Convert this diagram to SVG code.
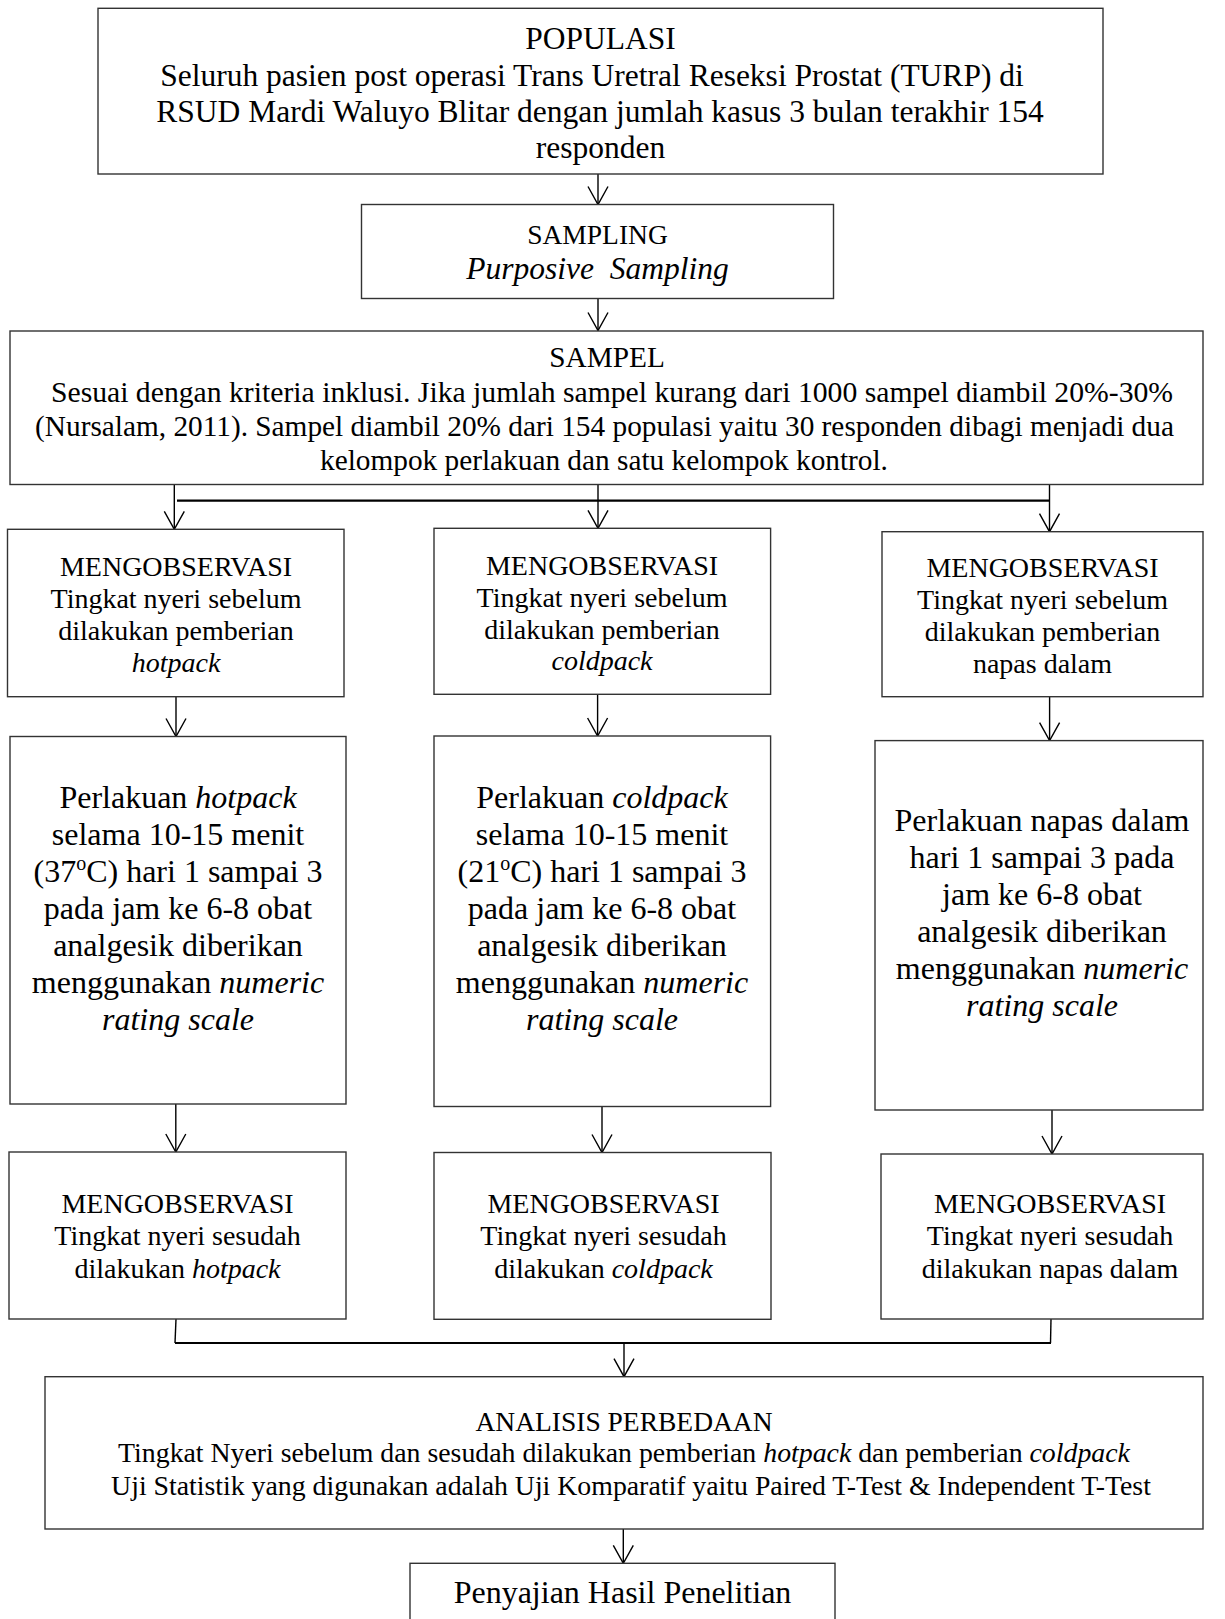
<svg xmlns="http://www.w3.org/2000/svg" width="1225" height="1619" viewBox="0 0 1225 1619">
<style>
.box{fill:#fff;stroke:#333;stroke-width:1.4}
.t{font-family:"Liberation Serif","Times New Roman",serif;text-anchor:middle;fill:#000}
.f315{font-size:31.5px}
.f293{font-size:29.3px}
.f28{font-size:28px}
.f27{font-size:27.5px}
.f278{font-size:27.8px}
.f32{font-size:32px}
.i{font-style:italic}
.conn{stroke:#000;stroke-width:1.4;fill:none}
.arr{marker-end:url(#ah)}
.bar{stroke:#000;stroke-width:2.2;fill:none}
</style>
<defs>
<marker id="ah" markerUnits="userSpaceOnUse" markerWidth="20" markerHeight="22" refX="18" refY="10" orient="auto" overflow="visible">
<path d="M0,0 L18,10 L0,20" fill="none" stroke="#000" stroke-width="1.4"/>
</marker>
</defs>
<rect width="1225" height="1619" fill="#fff"/>

<g id="connectors">
<line class="conn arr" x1="598" y1="174" x2="598" y2="204.5"/>
<line class="conn arr" x1="598" y1="298.5" x2="598" y2="330.5"/>
<line class="conn arr" x1="174.3" y1="484.5" x2="174.3" y2="529.3"/>
<line class="conn arr" x1="598" y1="484.5" x2="598" y2="528.3"/>
<line class="conn arr" x1="1049.5" y1="484.5" x2="1049.5" y2="531.7"/>
<line class="bar" x1="177" y1="500.7" x2="1049.5" y2="500.7"/>
<line class="conn arr" x1="176" y1="696.7" x2="176" y2="736.5"/>
<line class="conn arr" x1="597.6" y1="694.3" x2="597.6" y2="736"/>
<line class="conn arr" x1="1049.6" y1="696.7" x2="1049.6" y2="740.6"/>
<line class="conn arr" x1="175.8" y1="1104" x2="175.8" y2="1152"/>
<line class="conn arr" x1="602" y1="1106.5" x2="602" y2="1152.5"/>
<line class="conn arr" x1="1052" y1="1110" x2="1052" y2="1154"/>
<line class="conn" x1="176" y1="1319" x2="175" y2="1343"/>
<line class="conn" x1="1051" y1="1319" x2="1050.5" y2="1343"/>
<line class="bar" x1="175" y1="1343" x2="1051" y2="1343"/>
<line class="conn arr" x1="624" y1="1343" x2="624" y2="1376.7"/>
<line class="conn arr" x1="623.3" y1="1529" x2="623.3" y2="1563.3"/>
</g>

<g id="populasi">
<rect class="box" x="98" y="8.3" width="1005" height="165.7"/>
<text class="t f315" x="600.5" y="49">POPULASI</text>
<text class="t f315" x="592" y="86">Seluruh pasien post operasi Trans Uretral Reseksi Prostat (TURP) di</text>
<text class="t f315" x="600" y="122">RSUD Mardi Waluyo Blitar dengan jumlah kasus 3 bulan terakhir 154</text>
<text class="t f315" x="600.5" y="158">responden</text>
</g>

<g id="sampling">
<rect class="box" x="361.5" y="204.5" width="472" height="94"/>
<text class="t f27" x="597.5" y="243.5">SAMPLING</text>
<text class="t f315 i" x="597.5" y="278.5" xml:space="preserve">Purposive  Sampling</text>
</g>

<g id="sampel">
<rect class="box" x="10" y="331" width="1193" height="153.5"/>
<text class="t f293" x="607" y="367">SAMPEL</text>
<text class="t" style="font-size:29.7px" x="612" y="402">Sesuai dengan kriteria inklusi. Jika jumlah sampel kurang dari 1000 sampel diambil 20%-30%</text>
<text class="t f293" x="604.5" y="436">(Nursalam, 2011). Sampel diambil 20% dari 154 populasi yaitu 30 responden dibagi menjadi dua</text>
<text class="t f293" x="604" y="470">kelompok perlakuan dan satu kelompok kontrol.</text>
</g>

<g id="obs-pre-hotpack">
<rect class="box" x="7.5" y="529.3" width="336.5" height="167.4"/>
<text class="t f28" x="176" y="576">MENGOBSERVASI</text>
<text class="t f28" x="176" y="608">Tingkat nyeri sebelum</text>
<text class="t f28" x="176" y="640">dilakukan pemberian</text>
<text class="t f28 i" x="176" y="672">hotpack</text>
</g>

<g id="obs-pre-coldpack">
<rect class="box" x="434" y="528.3" width="336.6" height="166"/>
<text class="t f28" x="602" y="575">MENGOBSERVASI</text>
<text class="t f28" x="602" y="607">Tingkat nyeri sebelum</text>
<text class="t f28" x="602" y="639">dilakukan pemberian</text>
<text class="t f28 i" x="602" y="670">coldpack</text>
</g>

<g id="obs-pre-napas">
<rect class="box" x="882" y="531.7" width="321" height="165"/>
<text class="t f28" x="1042.5" y="577">MENGOBSERVASI</text>
<text class="t f28" x="1042.5" y="609">Tingkat nyeri sebelum</text>
<text class="t f28" x="1042.5" y="641">dilakukan pemberian</text>
<text class="t f28" x="1042.5" y="673">napas dalam</text>
</g>

<g id="perlakuan-hotpack">
<rect class="box" x="10" y="736.5" width="336" height="367.5"/>
<text class="t f32" x="178" y="808">Perlakuan <tspan class="i">hotpack</tspan></text>
<text class="t f32" x="178" y="845">selama 10-15 menit</text>
<text class="t f32" x="178" y="882">(37<tspan font-size="20" dy="-12">o</tspan><tspan dy="12">C) hari 1 sampai 3</tspan></text>
<text class="t f32" x="178" y="919">pada jam ke 6-8 obat</text>
<text class="t f32" x="178" y="956">analgesik diberikan</text>
<text class="t f32" x="178" y="993">menggunakan <tspan class="i">numeric</tspan></text>
<text class="t f32 i" x="178" y="1030">rating scale</text>
</g>

<g id="perlakuan-coldpack">
<rect class="box" x="434" y="736" width="336.6" height="370.5"/>
<text class="t f32" x="602" y="808">Perlakuan <tspan class="i">coldpack</tspan></text>
<text class="t f32" x="602" y="845">selama 10-15 menit</text>
<text class="t f32" x="602" y="882">(21<tspan font-size="20" dy="-12">o</tspan><tspan dy="12">C) hari 1 sampai 3</tspan></text>
<text class="t f32" x="602" y="919">pada jam ke 6-8 obat</text>
<text class="t f32" x="602" y="956">analgesik diberikan</text>
<text class="t f32" x="602" y="993">menggunakan <tspan class="i">numeric</tspan></text>
<text class="t f32 i" x="602" y="1030">rating scale</text>
</g>

<g id="perlakuan-napas">
<rect class="box" x="875" y="740.6" width="328" height="369.4"/>
<text class="t f32" x="1042" y="831">Perlakuan napas dalam</text>
<text class="t f32" x="1042" y="868">hari 1 sampai 3 pada</text>
<text class="t f32" x="1042" y="905">jam ke 6-8 obat</text>
<text class="t f32" x="1042" y="942">analgesik diberikan</text>
<text class="t f32" x="1042" y="979">menggunakan <tspan class="i">numeric</tspan></text>
<text class="t f32 i" x="1042" y="1016">rating scale</text>
</g>

<g id="obs-post-hotpack">
<rect class="box" x="9" y="1152" width="337" height="167"/>
<text class="t f28" x="177.5" y="1213">MENGOBSERVASI</text>
<text class="t f28" x="177.5" y="1245">Tingkat nyeri sesudah</text>
<text class="t f28" x="177.5" y="1278">dilakukan <tspan class="i">hotpack</tspan></text>
</g>

<g id="obs-post-coldpack">
<rect class="box" x="434" y="1152.5" width="337" height="166.8"/>
<text class="t f28" x="603.5" y="1213">MENGOBSERVASI</text>
<text class="t f28" x="603.5" y="1245">Tingkat nyeri sesudah</text>
<text class="t f28" x="603.5" y="1278">dilakukan <tspan class="i">coldpack</tspan></text>
</g>

<g id="obs-post-napas">
<rect class="box" x="881" y="1154" width="322" height="165"/>
<text class="t f28" x="1050" y="1213">MENGOBSERVASI</text>
<text class="t f28" x="1050" y="1245">Tingkat nyeri sesudah</text>
<text class="t f28" x="1050" y="1278">dilakukan napas dalam</text>
</g>

<g id="analisis">
<rect class="box" x="45" y="1376.7" width="1158" height="152.3"/>
<text class="t f27" x="624" y="1431">ANALISIS PERBEDAAN</text>
<text class="t f278" x="624" y="1462">Tingkat Nyeri sebelum dan sesudah dilakukan pemberian <tspan class="i">hotpack</tspan> dan pemberian <tspan class="i">coldpack</tspan></text>
<text class="t f278" x="631" y="1495">Uji Statistik yang digunakan adalah Uji Komparatif yaitu Paired T-Test &amp; Independent T-Test</text>
</g>

<g id="penyajian">
<rect class="box" x="410" y="1563.3" width="425" height="70"/>
<text class="t f32" x="622.5" y="1603">Penyajian Hasil Penelitian</text>
</g>
</svg>
